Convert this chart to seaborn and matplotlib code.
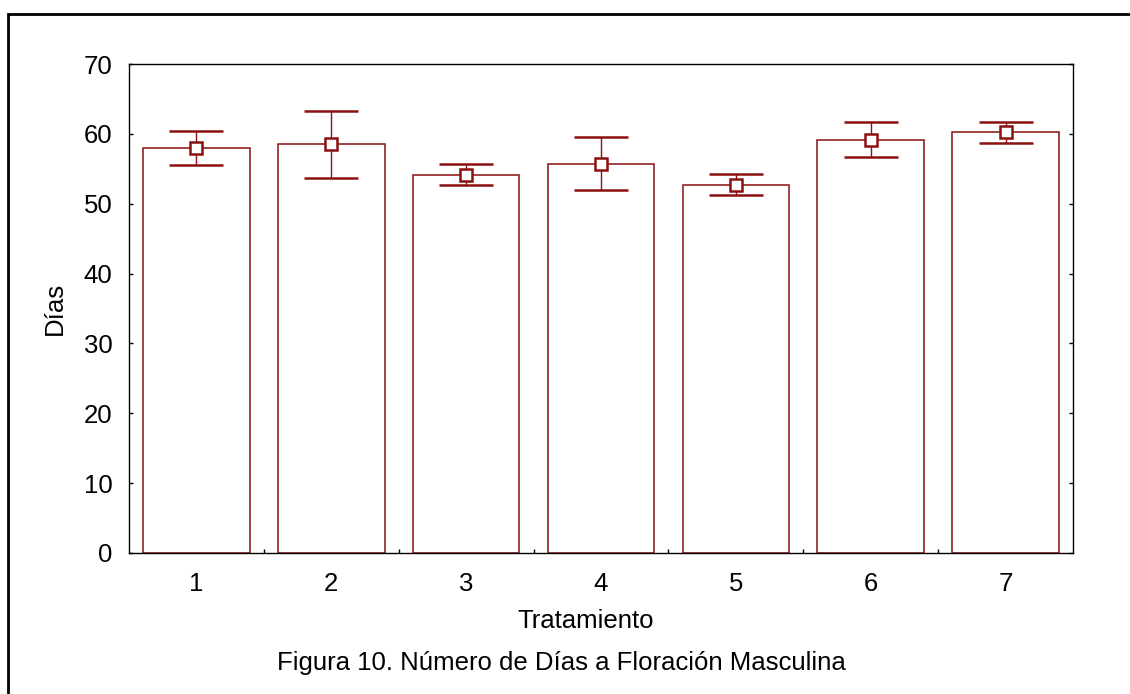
import matplotlib
matplotlib.use("Agg")
import matplotlib.pyplot as plt
import seaborn as sns
import pandas as pd
import numpy as np
from matplotlib.patches import Rectangle
from matplotlib.ticker import FixedLocator

# Data
tratamientos = ["1", "2", "3", "4", "5", "6", "7"]
medias = [58.0, 58.5, 54.1, 55.7, 52.7, 59.1, 60.3]
err_sup = [60.4, 63.3, 55.7, 59.5, 54.2, 61.7, 61.7]
err_inf = [55.5, 53.7, 52.7, 52.0, 51.2, 56.7, 58.7]
yticks = [0, 10, 20, 30, 40, 50, 60, 70]

sns.set_theme(style="white")
plt.rcParams['font.family'] = ['Liberation Sans', 'DejaVu Sans']
plt.rcParams['text.color'] = 'black'
plt.rcParams['xtick.color'] = 'black'
plt.rcParams['ytick.color'] = 'black'
plt.rcParams['xtick.labelcolor'] = 'black'
plt.rcParams['ytick.labelcolor'] = 'black'

dark_red = '#8B1010'
fs = 18.5

fig = plt.figure(figsize=(11.3, 6.94), dpi=100)
ax = fig.add_axes([129/1130, 1 - 553/694, (1073-129)/1130, (553-64)/694])

df = pd.DataFrame({"Tratamiento": tratamientos, "Dias": medias})
sns.barplot(data=df, x="Tratamiento", y="Dias", ax=ax, color="white",
            edgecolor=dark_red, linewidth=1.1, width=0.79, errorbar=None,
            saturation=1)

xpos = np.arange(len(tratamientos))
yerr = np.array([np.array(medias) - np.array(err_inf), np.array(err_sup) - np.array(medias)])
ax.errorbar(xpos, medias, yerr=yerr, fmt='s', color=dark_red, ecolor=dark_red,
            elinewidth=1.0, capsize=19.5, capthick=1.0, markersize=8.5,
            markerfacecolor='white', markeredgecolor=dark_red, markeredgewidth=1.8,
            zorder=5)

ax.set_xlim(-0.5, 6.5)
ax.set_ylim(0, 70)
ax.set_yticks(yticks)
ax.set_yticklabels([str(t) for t in yticks], fontsize=fs, color='black')
ax.set_xticks(xpos)
ax.set_xticklabels(tratamientos, fontsize=fs, color='black')
ax.xaxis.set_minor_locator(FixedLocator(np.arange(0.5, 6.0, 1.0)))
ax.tick_params(axis='x', which='major', length=0, pad=14)
ax.tick_params(axis='x', which='minor', length=3, direction='in', width=1, color='black', bottom=True)
ax.tick_params(axis='y', which='major', length=3, direction='in', width=1,
               left=True, right=True, pad=12, color='black')
for s in ax.spines.values():
    s.set_visible(True)
    s.set_color('black')
    s.set_linewidth(1.0)

ax.set_xlabel("")
ax.set_ylabel("")
fig.text(55/1130, 1 - 308/694, "Días", rotation=90, ha='center', va='center', fontsize=fs, color='black')
fig.text(586/1130, 1 - 621/694, "Tratamiento", ha='center', va='center', fontsize=fs, color='black')
fig.text(561/1130, 1 - 663/694, "Figura 10. Número de Días a Floración Masculina",
         ha='center', va='center', fontsize=fs, color='black')

# outer border (extends beyond image on right/bottom)
fig.patches.append(Rectangle((8/1130, -0.05), 1.1, 1 - 14/694 + 0.05, transform=fig.transFigure,
                             fill=False, edgecolor='black', linewidth=2.0, zorder=10))

fig.savefig("out.png", dpi=100)
